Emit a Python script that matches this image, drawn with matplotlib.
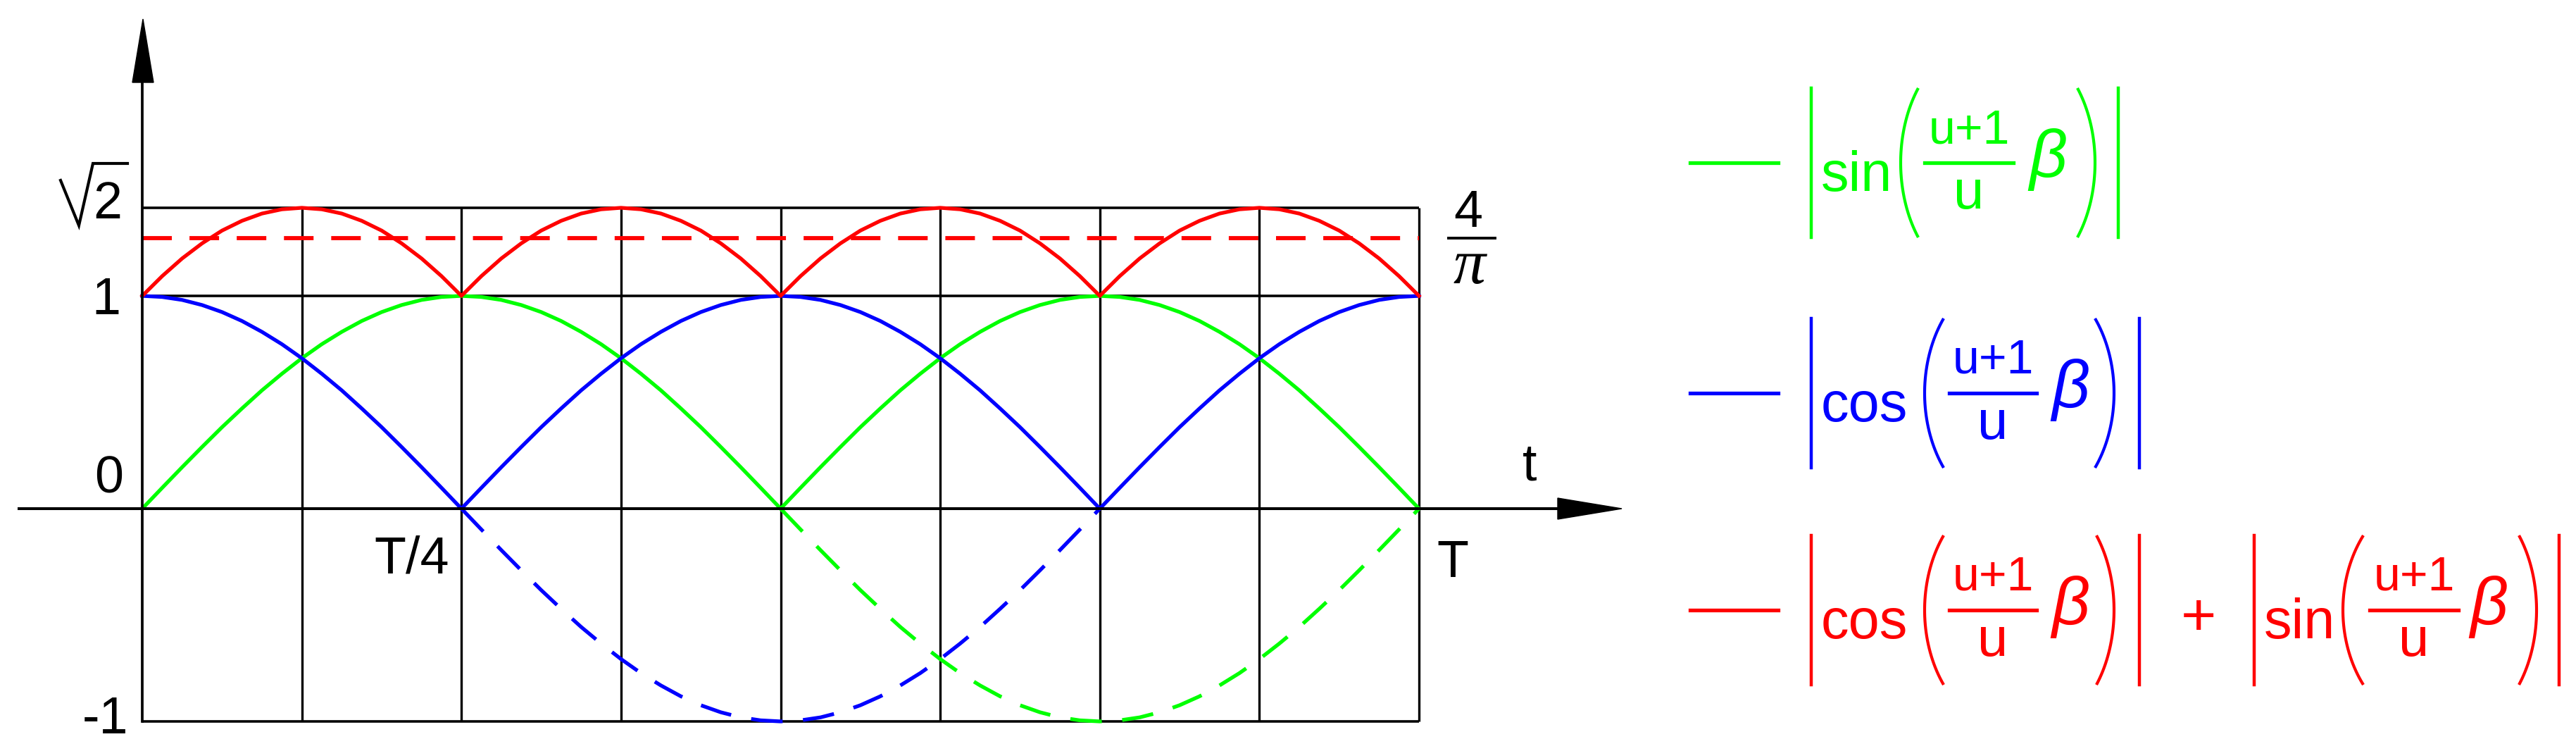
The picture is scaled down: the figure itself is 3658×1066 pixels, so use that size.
import matplotlib

matplotlib.use("Agg")
import matplotlib.patches as mpatches
import matplotlib.pyplot as plt
import numpy as np

# Sample instants, in fractions of the period T (step T/64)
t_pts = np.linspace(0.0, 1.0, 65)
t_neg_blue = np.linspace(0.25, 0.75, 33)
t_neg_green = np.linspace(0.5, 1.0, 33)

# |sin|, |cos| and their sum at every T/64
green_abs = [
    0.0, 0.098, 0.195, 0.290, 0.383, 0.471, 0.556, 0.634, 0.707, 0.773, 0.831, 0.882, 0.924, 0.957, 0.981, 0.995,
    1.0, 0.995, 0.981, 0.957, 0.924, 0.882, 0.831, 0.773, 0.707, 0.634, 0.556, 0.471, 0.383, 0.290, 0.195, 0.098,
    0.0, 0.098, 0.195, 0.290, 0.383, 0.471, 0.556, 0.634, 0.707, 0.773, 0.831, 0.882, 0.924, 0.957, 0.981, 0.995,
    1.0, 0.995, 0.981, 0.957, 0.924, 0.882, 0.831, 0.773, 0.707, 0.634, 0.556, 0.471, 0.383, 0.290, 0.195, 0.098,
    0.0,
]
blue_abs = [
    1.0, 0.995, 0.981, 0.957, 0.924, 0.882, 0.831, 0.773, 0.707, 0.634, 0.556, 0.471, 0.383, 0.290, 0.195, 0.098,
    0.0, 0.098, 0.195, 0.290, 0.383, 0.471, 0.556, 0.634, 0.707, 0.773, 0.831, 0.882, 0.924, 0.957, 0.981, 0.995,
    1.0, 0.995, 0.981, 0.957, 0.924, 0.882, 0.831, 0.773, 0.707, 0.634, 0.556, 0.471, 0.383, 0.290, 0.195, 0.098,
    0.0, 0.098, 0.195, 0.290, 0.383, 0.471, 0.556, 0.634, 0.707, 0.773, 0.831, 0.882, 0.924, 0.957, 0.981, 0.995,
    1.0,
]
red_sum = [
    1.0, 1.093, 1.176, 1.247, 1.307, 1.353, 1.387, 1.407, 1.414, 1.407, 1.387, 1.353, 1.307, 1.247, 1.176, 1.093,
    1.0, 1.093, 1.176, 1.247, 1.307, 1.353, 1.387, 1.407, 1.414, 1.407, 1.387, 1.353, 1.307, 1.247, 1.176, 1.093,
    1.0, 1.093, 1.176, 1.247, 1.307, 1.353, 1.387, 1.407, 1.414, 1.407, 1.387, 1.353, 1.307, 1.247, 1.176, 1.093,
    1.0, 1.093, 1.176, 1.247, 1.307, 1.353, 1.387, 1.407, 1.414, 1.407, 1.387, 1.353, 1.307, 1.247, 1.176, 1.093,
    1.0,
]

# negative half-waves (dashed)
blue_neg = [
    0.0, -0.098, -0.195, -0.290, -0.383, -0.471, -0.556, -0.634, -0.707, -0.773, -0.831, -0.882, -0.924, -0.957,
    -0.981, -0.995, -1.0, -0.995, -0.981, -0.957, -0.924, -0.882, -0.831, -0.773, -0.707, -0.634, -0.556, -0.471,
    -0.383, -0.290, -0.195, -0.098, 0.0,
]
green_neg = [
    0.0, -0.098, -0.195, -0.290, -0.383, -0.471, -0.556, -0.634, -0.707, -0.773, -0.831, -0.882, -0.924, -0.957,
    -0.981, -0.995, -1.0, -0.995, -0.981, -0.957, -0.924, -0.882, -0.831, -0.773, -0.707, -0.634, -0.556, -0.471,
    -0.383, -0.290, -0.195, -0.098, 0.0,
]

mean_level = 1.273  # 4/pi
grid_t = [0, 0.125, 0.25, 0.375, 0.5, 0.625, 0.75, 0.875, 1.0]
grid_levels = [1.414, 1.0, -1.0]

GREEN = "#00ff00"
BLUE = "#0000ff"
RED = "#ff0000"
FONT = ["Liberation Sans", "DejaVu Sans"]

W, H = 3658, 1066
fig = plt.figure(figsize=(W / 100, H / 100), dpi=100, facecolor="white")

# main axes: t=0 at x=202 px, t=T at x=2015 px, y=0 at 722 px, 1 unit = 302 px
ax = fig.add_axes([0, 0, 1, 1])
ax.set_xlim(-202 / 1813, (W - 202) / 1813)
ax.set_ylim(-(H - 722) / 302, 722 / 302)
ax.axis("off")

# grid
ax.vlines(grid_t[1:], -1.0, 1.414, color="black", lw=2.4, zorder=1)
ax.hlines(grid_levels, 0, 1.0, color="black", lw=2.6, zorder=1)

# curves
lw = 3.8
ax.plot(t_pts, green_abs, color=GREEN, lw=lw, zorder=3)
ax.plot(t_pts, blue_abs, color=BLUE, lw=lw, zorder=3)
ax.plot(t_pts, red_sum, color=RED, lw=lw, zorder=3)
ax.plot(t_neg_blue, blue_neg, color=BLUE, lw=lw, dashes=(8.5, 5.5), zorder=3)
ax.plot(t_neg_green, green_neg, color=GREEN, lw=lw, dashes=(8.5, 5.5), zorder=3)
ax.plot([0, 1.0], [mean_level, mean_level], color=RED, lw=4.2, dashes=(7.2, 4.3), zorder=3)

# overlay in pixel coordinates for axes arrows, labels and legend
ov = fig.add_axes([0, 0, 1, 1])
ov.set_xlim(0, W)
ov.set_ylim(H, 0)
ov.axis("off")
ov.patch.set_visible(False)

# axes lines + arrowheads
ov.plot([202, 202], [1024, 115], color="black", lw=2.7)
ov.plot([27, 2214], [722, 722], color="black", lw=2.9)
ov.add_patch(mpatches.Polygon([[203, 27], [188, 117], [218, 117]], closed=True, color="black"))
ov.add_patch(mpatches.Polygon([[2303, 722], [2212, 707], [2212, 737]], closed=True, color="black"))

# axis labels
lab = dict(fontsize=53, family=FONT, color="black", va="baseline")
ov.text(171, 446, "1", ha="right", **lab)
ov.text(175, 700, "0", ha="right", **lab)
ov.text(182, 1041, "-1", ha="right", **lab)
ov.text(638, 814, "T/4", ha="right", **lab)
ov.text(2040, 819, "T", ha="left", **lab)
ov.text(2172, 681, "t", ha="center", **lab)
# sqrt(2)
ov.text(153, 310, "2", ha="center", **lab)
ov.plot([86, 112, 132, 181], [256, 320, 232, 232], color="black", lw=3.0,
        solid_joinstyle="miter")
# 4/pi
ov.text(2085, 322, "4", ha="center", **lab)
ov.plot([2057, 2123], [338, 338], color="black", lw=2.8)
ov.text(2086, 402, "\u03c0", ha="center", va="baseline", fontsize=66,
        family=["Liberation Serif", "DejaVu Serif"], style="italic", color="black")


def paren(x_out, x_in, yc, half_h, color):
    # tall thin bracket drawn as an elliptic arc from x_in (ends) to x_out (middle)
    phi = np.radians(38)
    depth = x_in - x_out
    a = depth / (1 - np.cos(phi))
    b = half_h / np.sin(phi)
    s = np.linspace(-phi, phi, 40)
    xs = x_in - a * (np.cos(s) - np.cos(phi)) * np.sign(depth) * np.sign(depth)
    xs = x_out + depth * (1 - (np.cos(s) - np.cos(phi)) / (1 - np.cos(phi)))
    ys = yc + b * np.sin(s)
    ov.plot(xs, ys, color=color, lw=3.0, solid_capstyle="butt")


def term(func, x0, yc, color, p_open, frac_x, beta_x, p_close, bar_r):
    half = 106
    ov.plot([x0, x0], [yc - half, yc + half], color=color, lw=3.2)
    ov.text(x0 + 14, yc + 40, func, ha="left", va="baseline", fontsize=57, family=FONT, color=color)
    paren(p_open[0], p_open[1], yc, half, color)
    fc = (frac_x[0] + frac_x[1]) / 2
    ov.plot(frac_x, [yc, yc], color=color, lw=3.8)
    ov.text(fc, yc - 28, "u+1", ha="center", va="baseline", fontsize=49, family=FONT, color=color)
    ov.text(fc, yc + 65, "u", ha="center", va="baseline", fontsize=56, family=FONT, color=color)
    ov.text(beta_x, yc + 20, "\u03b2", ha="center", va="baseline", fontsize=68, family=FONT,
            style="italic", color=color)
    paren(p_close[0], p_close[1], yc, half, color)
    ov.plot([bar_r, bar_r], [yc - half, yc + half], color=color, lw=3.2)


# legend rows
rows = [(231, GREEN), (558, BLUE), (866, RED)]
for yc, col in rows:
    ov.plot([2400, 2525], [yc, yc], color=col, lw=3.8)

term("sin", 2572, 231, GREEN, (2699, 2724), [2733, 2859], 2908, (2975, 2950), 3008)
term("cos", 2572, 558, BLUE, (2733, 2760), [2768, 2892], 2940, (3002, 2975), 3038)
term("cos", 2572, 866, RED, (2733, 2760), [2768, 2892], 2940, (3002, 2977), 3038)
ov.text(3122, 880, "+", ha="center", va="center", fontsize=62, family=FONT, color=RED)
term("sin", 3201, 866, RED, (3327, 3356), [3365, 3491], 3534, (3602, 3577), 3634)

plt.savefig("out.png", dpi=100, facecolor="white")
plt.close()
